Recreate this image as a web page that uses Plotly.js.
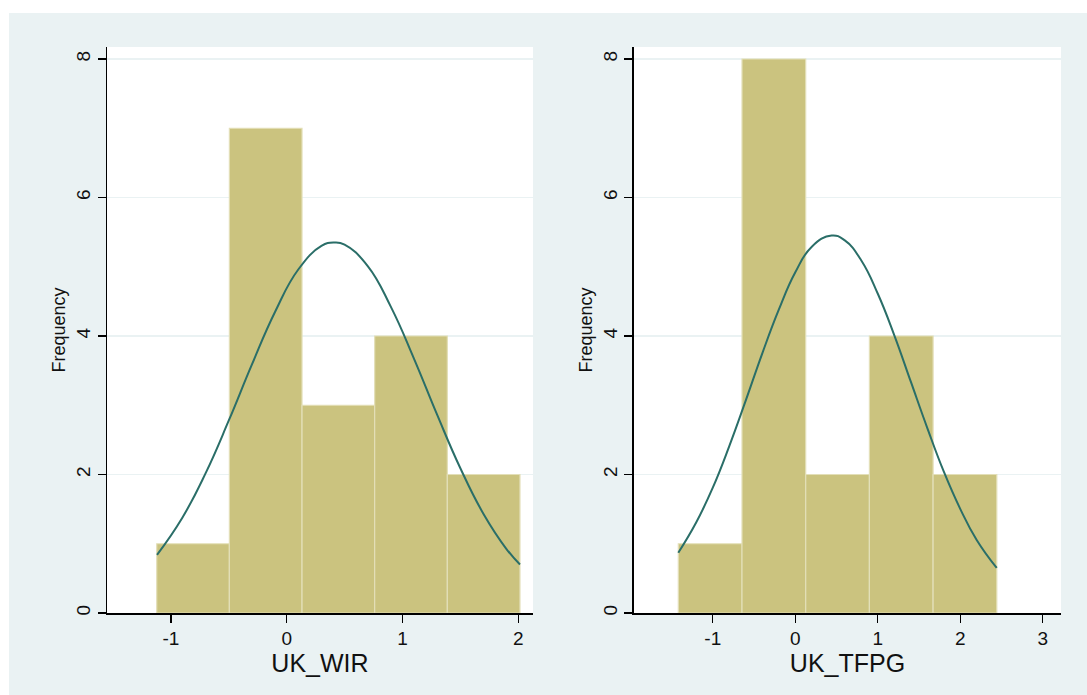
<!DOCTYPE html>
<html>
<head>
<meta charset="utf-8">
<script src="https://cdn.plot.ly/plotly-3.0.1.min.js"></script>
<style>
  html, body { margin: 0; padding: 0; background: #ffffff; }
  #chart { position: absolute; left: 9px; top: 13px; width: 1078px; height: 682px; }
</style>
</head>
<body>
<div id="chart"></div>
<script>
// ---- Data ----
// Left panel: UK_WIR
const wirBinStart = -1.1226;
const wirBinWidth = 0.6275;
const wirCounts = [1, 7, 3, 4, 2];
const wirCurveX = [-1.12, -0.9, -0.7, -0.5, -0.3, -0.1, 0.1, 0.3, 0.41, 0.5, 0.7, 0.9, 1.1, 1.3, 1.5, 1.7, 1.9, 2.015];
const wirCurveY = [0.84, 1.38, 2.02, 2.78, 3.59, 4.35, 4.96, 5.30, 5.35, 5.32, 5.01, 4.42, 3.67, 2.86, 2.09, 1.43, 0.92, 0.70];
const wirTicks = [-1, 0, 1, 2];
const wirTickText = ["-1", "0", "1", "2"];

// Right panel: UK_TFPG
const tfpgBinStart = -1.418;
const tfpgBinWidth = 0.772;
const tfpgCounts = [1, 8, 2, 4, 2];
const tfpgCurveX = [-1.418, -1.2, -1.0, -0.8, -0.6, -0.4, -0.2, 0, 0.2, 0.44, 0.6, 0.8, 1.0, 1.2, 1.4, 1.6, 1.8, 2.0, 2.2, 2.441];
const tfpgCurveY = [0.87, 1.31, 1.81, 2.41, 3.07, 3.75, 4.38, 4.92, 5.29, 5.45, 5.38, 5.09, 4.61, 4.01, 3.34, 2.67, 2.04, 1.50, 1.05, 0.65];
const tfpgTicks = [-1, 0, 1, 2, 3];
const tfpgTickText = ["-1", "0", "1", "2", "3"];

const yTicks = [0, 2, 4, 6, 8];
const yTickText = ["0", "2", "4", "6", "8"];
const xTitles = ["UK_WIR", "UK_TFPG"];
const yTitle = "Frequency";

// ---- Build ----
function centers(start, width, n) {
  const c = [];
  for (let i = 0; i < n; i++) c.push(start + width * (i + 0.5));
  return c;
}

const barColor = "#cbc37f";
const barLine = "#e3dfb8";
const curveColor = "#2a6e68";
const bg = "#eaf2f3";
const font = "Liberation Sans, Arial, Helvetica, sans-serif";
const tickSize = 19;

const traces = [
  {
    type: "bar", x: centers(wirBinStart, wirBinWidth, wirCounts.length), y: wirCounts,
    width: wirBinWidth, marker: { color: barColor, line: { color: barLine, width: 1.2 } },
    xaxis: "x", yaxis: "y", hoverinfo: "skip", showlegend: false
  },
  {
    type: "scatter", mode: "lines", x: wirCurveX, y: wirCurveY,
    line: { color: curveColor, width: 2, shape: "spline", smoothing: 1.3 },
    xaxis: "x", yaxis: "y", showlegend: false
  },
  {
    type: "bar", x: centers(tfpgBinStart, tfpgBinWidth, tfpgCounts.length), y: tfpgCounts,
    width: tfpgBinWidth, marker: { color: barColor, line: { color: barLine, width: 1.2 } },
    xaxis: "x2", yaxis: "y2", hoverinfo: "skip", showlegend: false
  },
  {
    type: "scatter", mode: "lines", x: tfpgCurveX, y: tfpgCurveY,
    line: { color: curveColor, width: 2, shape: "spline", smoothing: 1.3 },
    xaxis: "x2", yaxis: "y2", showlegend: false
  }
];

function xAxis(range, ticks, text, title, domain, anchor) {
  return {
    domain: domain, range: range, anchor: anchor,
    tickmode: "array", tickvals: ticks, ticktext: text,
    ticks: "outside", ticklen: 8, tickwidth: 1.3, tickcolor: "#000",
    showline: true, linecolor: "#000", linewidth: 1.5,
    showgrid: false, zeroline: false,
    tickfont: { family: font, size: tickSize, color: "#111" },
    title: { text: title, font: { family: font, size: 25, color: "#111" }, standoff: 0 }
  };
}
function yAxis(anchor) {
  return {
    domain: [0, 1], range: [0, 8.173], anchor: anchor,
    tickmode: "array", tickvals: yTicks, ticktext: yTickText, tickangle: -90,
    ticks: "outside", ticklen: 8, tickwidth: 1.3, tickcolor: "#000",
    showline: true, linecolor: "#000", linewidth: 1.5,
    showgrid: true, gridcolor: bg, gridwidth: 1.3, zeroline: false,
    tickfont: { family: font, size: tickSize, color: "#111" },
    title: { text: yTitle, font: { family: font, size: 18, color: "#111" }, standoff: 2 }
  };
}

const layout = {
  width: 1078, height: 682,
  font: { family: font, size: tickSize, color: "#111" },
  margin: { l: 98, r: 26, t: 34, b: 82 },
  paper_bgcolor: bg, plot_bgcolor: "#ffffff",
  bargap: 0, showlegend: false,
  xaxis: xAxis([-1.552, 2.127], wirTicks, wirTickText, xTitles[0], [0, 0.4465], "y"),
  yaxis: yAxis("x"),
  xaxis2: xAxis([-1.955, 3.22], tfpgTicks, tfpgTickText, xTitles[1], [0.5524, 1], "y2"),
  yaxis2: yAxis("x2")
};

Plotly.newPlot("chart", traces, layout, { displayModeBar: false, staticPlot: true });
</script>
</body>
</html>
